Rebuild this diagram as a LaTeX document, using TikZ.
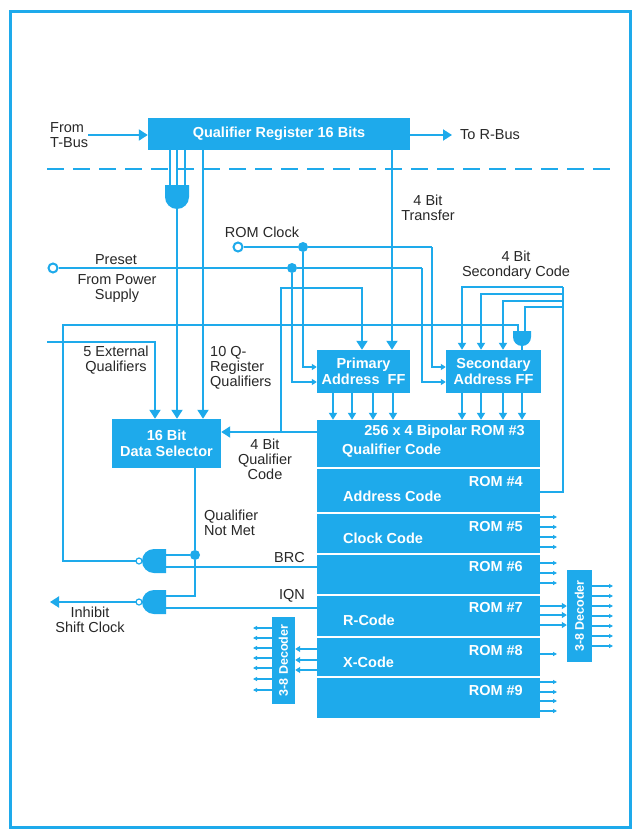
\documentclass[tikz,border=0pt]{standalone}
\usepackage{fontspec}
\setmainfont{Liberation Sans}
\usetikzlibrary{arrows.meta}
\definecolor{hpblue}{RGB}{30,170,235}
\definecolor{txt}{RGB}{40,40,40}
\begin{document}
\begin{tikzpicture}[x=1pt,y=-1pt,
  wire/.style={hpblue,line width=1.9pt},
  thin/.style={hpblue,line width=1.2pt},
  big/.style={-{Triangle[width=11pt,length=9pt]}},
  mid/.style={-{Triangle[width=8pt,length=7pt]}},
  sml/.style={-{Triangle[width=6pt,length=5pt]}},
  tick/.style={hpblue,line width=1.1pt,-{Triangle[width=4pt,length=4pt]}},
  blk/.style={fill=hpblue,draw=none,inner sep=0pt,text=white,font=\fontsize{14.5}{15.5}\selectfont\bfseries,align=center},
  rtxt/.style={text=white,inner sep=0pt,font=\fontsize{14.5}{15.5}\selectfont\bfseries},
  dtxt/.style={text=white,inner sep=0pt,font=\fontsize{12.5}{14}\selectfont\bfseries},
  lbl/.style={text=txt,font=\fontsize{14.5}{15}\selectfont,align=center,inner sep=0pt},
  dot/.style={circle,fill=hpblue,inner sep=0pt,minimum size=10pt},
  term/.style={circle,draw=hpblue,fill=white,line width=2pt,inner sep=0pt,minimum size=9pt},
  gate/.style={fill=hpblue},
]
\useasboundingbox (0,0) rectangle (637,829);
\fill[white] (0,0) rectangle (637,829);
\draw[hpblue,line width=3pt] (10,12) rectangle (630,827);

% ---------- boxes ----------
\node[blk,minimum width=262pt,minimum height=32pt] (qr) at (279,134) {Qualifier Register 16 Bits};
\node[blk,minimum width=109pt,minimum height=49pt] (ds) at (166.5,443.5) {16 Bit\\Data Selector};
\node[blk,minimum width=93pt,minimum height=43pt] (pff) at (363.5,371.5) {Primary\\Address\ \ FF};
\node[blk,minimum width=95pt,minimum height=43pt] (sff) at (493.5,371.5) {Secondary\\Address FF};
\node[blk,minimum width=223pt,minimum height=298pt] (rom) at (428.5,569) {};
\foreach \y in {468,513,554,595,637,677} \draw[white,line width=1.6pt] (317,\y) -- (540,\y);
\node[blk,minimum width=23pt,minimum height=87pt] (decl) at (283.5,660.5) {};
\node[dtxt,rotate=90] (decltxt) at (decl.center) {3-8 Decoder};
\node[blk,minimum width=25pt,minimum height=92pt] (decr) at (579.5,616) {};
\node[dtxt,rotate=90] (decrtxt) at (decr.center) {3-8 Decoder};

% ---------- ROM texts ----------
\node[rtxt,anchor=east] (r3) at (525,432) {256 x 4 Bipolar ROM \#3};
\node[rtxt,anchor=west] (c3) at (342,451) {Qualifier Code};
\node[rtxt,anchor=east] (r4) at (523,482) {ROM \#4};
\node[rtxt,anchor=west] (c4) at (343,496) {Address Code};
\node[rtxt,anchor=east] (r5) at (523,527) {ROM \#5};
\node[rtxt,anchor=west] (c5) at (343,538) {Clock Code};
\node[rtxt,anchor=east] (r6) at (523,567) {ROM \#6};
\node[rtxt,anchor=east] (r7) at (523,608) {ROM \#7};
\node[rtxt,anchor=west] (c7) at (343,620) {R-Code};
\node[rtxt,anchor=east] (r8) at (523,651) {ROM \#8};
\node[rtxt,anchor=west] (c8) at (343,662) {X-Code};
\node[rtxt,anchor=east] (r9) at (523,691) {ROM \#9};

% ---------- labels ----------
\node[lbl,align=left,anchor=west] (tbus) at (50,135) {From\\T-Bus};
\node[lbl,anchor=west] (rbus) at (460,135) {To R-Bus};
\node[lbl] (lpre) at (116,260) {Preset};
\node[lbl] (lpow) at (117,288.5) {From Power\\Supply};
\node[lbl] (lclk) at (262,232) {ROM Clock};
\node[lbl] (ltr) at (428,207.5) {4 Bit\\Transfer};
\node[lbl] (lsc) at (516,265.5) {4 Bit\\Secondary Code};
\node[lbl] (lext) at (116,360.5) {5 External\\Qualifiers};
\node[lbl,align=left,anchor=west] (lqr) at (210,367.5) {10 Q-\\Register\\Qualifiers};
\node[lbl] (lqc) at (265,459) {4 Bit\\Qualifier\\Code};
\node[lbl,align=left,anchor=west] (lnm) at (204,523) {Qualifier\\Not Met};
\node[lbl,anchor=east] (lbrc) at (305,558) {BRC};
\node[lbl,anchor=east] (liqn) at (305,596) {IQN};
\node[lbl] (linh) at (90,620) {Inhibit\\Shift Clock};

% ---------- top bus ----------
\coordinate (tbs) at (88,135);
\draw[wire,big] (tbs) -- (tbs -| qr.west);
\coordinate (rbe) at (452,135);
\draw[wire,big] (qr.east |- rbe) -- (rbe);
\coordinate (dl) at (47,169);
\coordinate (dr) at (615,169);
\draw[wire,dash pattern=on 17pt off 9pt] (dl) -- (dr);

% ---------- top AND gate ----------
\fill[gate] (165,185) -- (189,185) -- (189,197) arc[start angle=0,end angle=180,radius=12] -- cycle;
\foreach \x in {170,177,185} {
  \coordinate (gi) at (\x,185);
  \draw[wire] (gi |- qr.south) -- (gi);
}
\coordinate (agout) at (177,208);
\draw[wire,big] (agout) -- (agout |- ds.north);
\coordinate (qq) at (203,300);
\draw[wire,big] (qq |- qr.south) -- (qq |- ds.north);
\coordinate (ex0) at (47,342);
\coordinate (ex1) at (155,342);
\draw[wire,big] (ex0) -- (ex1) -- (ex1 |- ds.north);

% ---------- 4 bit transfer ----------
\coordinate (tr) at (392,300);
\draw[wire,big] (tr |- qr.south) -- (tr |- pff.north);

% ---------- ROM clock and preset ----------
\coordinate (ci) at (0,367);
\coordinate (pi) at (0,382);
\node[term] (clk) at (238,247) {};
\node[dot] (clkd) at (303,247) {};
\coordinate (clkr) at (432,247);
\draw[wire] (clk) -- (clkd) -- (clkr);
\draw[wire,sml] (clkr) -- (clkr |- ci) -- (sff.west |- ci);
\draw[wire,sml] (clkd) -- (clkd |- ci) -- (pff.west |- ci);
\node[term] (pre) at (53,268) {};
\node[dot] (pred) at (292,268) {};
\coordinate (prer) at (422,268);
\draw[wire] (pre) -- (pred) -- (prer);
\draw[wire,sml] (prer) -- (prer |- pi) -- (sff.west |- pi);
\draw[wire,sml] (pred) -- (pred |- pi) -- (pff.west |- pi);

% ---------- qualifier code ----------
\coordinate (qc) at (0,432);
\draw[wire,big] (rom.west |- qc) -- (ds.east |- qc);
\coordinate (qv) at (281,288);
\coordinate (qv2) at (362,288);
\draw[wire,big] (qv |- qc) -- (qv) -- (qv2) -- (qv2 |- pff.north);

% ---------- FF outputs ----------
\foreach \x in {333,352,373,393} {
  \coordinate (fo) at (\x,0);
  \draw[wire,mid] (pff.south -| fo) -- (rom.north -| fo);
}
\foreach \x in {462,481,503,522} {
  \coordinate (fo) at (\x,0);
  \draw[wire,mid] (sff.south -| fo) -- (rom.north -| fo);
}

% ---------- secondary code ----------
\coordinate (ao) at (563,492);
\coordinate (at) at (563,287);
\draw[wire] (rom.east |- ao) -- (ao) -- (at);
\foreach \x/\y in {462/287,481/294,503/301} {
  \coordinate (sb) at (\x,\y);
  \draw[wire,mid] (at |- sb) -- (sb) -- (sb |- sff.north);
}
\fill[gate] (513,331) -- (531,331) -- (531,337) arc[start angle=0,end angle=180,radius=9] -- cycle;
\coordinate (sg1) at (518,331);
\coordinate (sg2) at (525,331);
\coordinate (sb4) at (525,307);
\draw[wire] (at |- sb4) -- (sb4) -- (sg2);
\coordinate (sgo) at (522,345);
\draw[wire] (sgo) -- (sgo |- sff.north);

% ---------- feedback line ----------
\coordinate (fb) at (63,561);
\coordinate (fbt) at (63,325);
\draw[wire] (136,561) -- (fb) -- (fbt) -- (fbt -| sg1) -- (sg1);

% ---------- BRC / IQN gates ----------
\fill[gate] (166,549) -- (154,549) arc[start angle=270,end angle=90,radius=12] -- (166,573) -- cycle;
\draw[hpblue,fill=white,line width=1.2pt] (139,561) circle[radius=3];
\fill[gate] (166,590) -- (154,590) arc[start angle=270,end angle=90,radius=12] -- (166,614) -- cycle;
\draw[hpblue,fill=white,line width=1.2pt] (139,602) circle[radius=3];
\node[dot] (qnm) at (195,555) {};
\coordinate (g2a) at (166,596);
\draw[wire] (ds.south -| qnm) -- (qnm) -- (qnm |- g2a) -- (g2a);
\coordinate (g1a) at (166,555);
\draw[wire] (qnm) -- (g1a);
\coordinate (g1b) at (166,567);
\draw[wire] (rom.west |- g1b) -- (g1b);
\coordinate (g2b) at (166,608);
\draw[wire] (rom.west |- g2b) -- (g2b);
\coordinate (inh) at (50,602);
\draw[wire,big] (136,602) -- (inh);

% ---------- decoders and outputs ----------
\foreach \y in {649,660,670} {
  \coordinate (dy) at (0,\y);
  \draw[thin,sml] (rom.west |- dy) -- (decl.east |- dy);
}
\foreach \y in {628,638,648,658,668,679,690} {
  \coordinate (dy) at (253,\y);
  \draw[tick] (decl.west |- dy) -- (dy);
}
\foreach \y in {606,615,625} {
  \coordinate (dy) at (0,\y);
  \draw[thin,sml] (rom.east |- dy) -- (decr.west |- dy);
}
\foreach \y in {586,596,606,616,626,636,646} {
  \coordinate (dy) at (613,\y);
  \draw[tick] (decr.east |- dy) -- (dy);
}
\foreach \y in {517,527,537,547,563,573,583,654,682,692,701,711} {
  \coordinate (dy) at (557,\y);
  \draw[tick] (rom.east |- dy) -- (dy);
}
\end{tikzpicture}
\end{document}
